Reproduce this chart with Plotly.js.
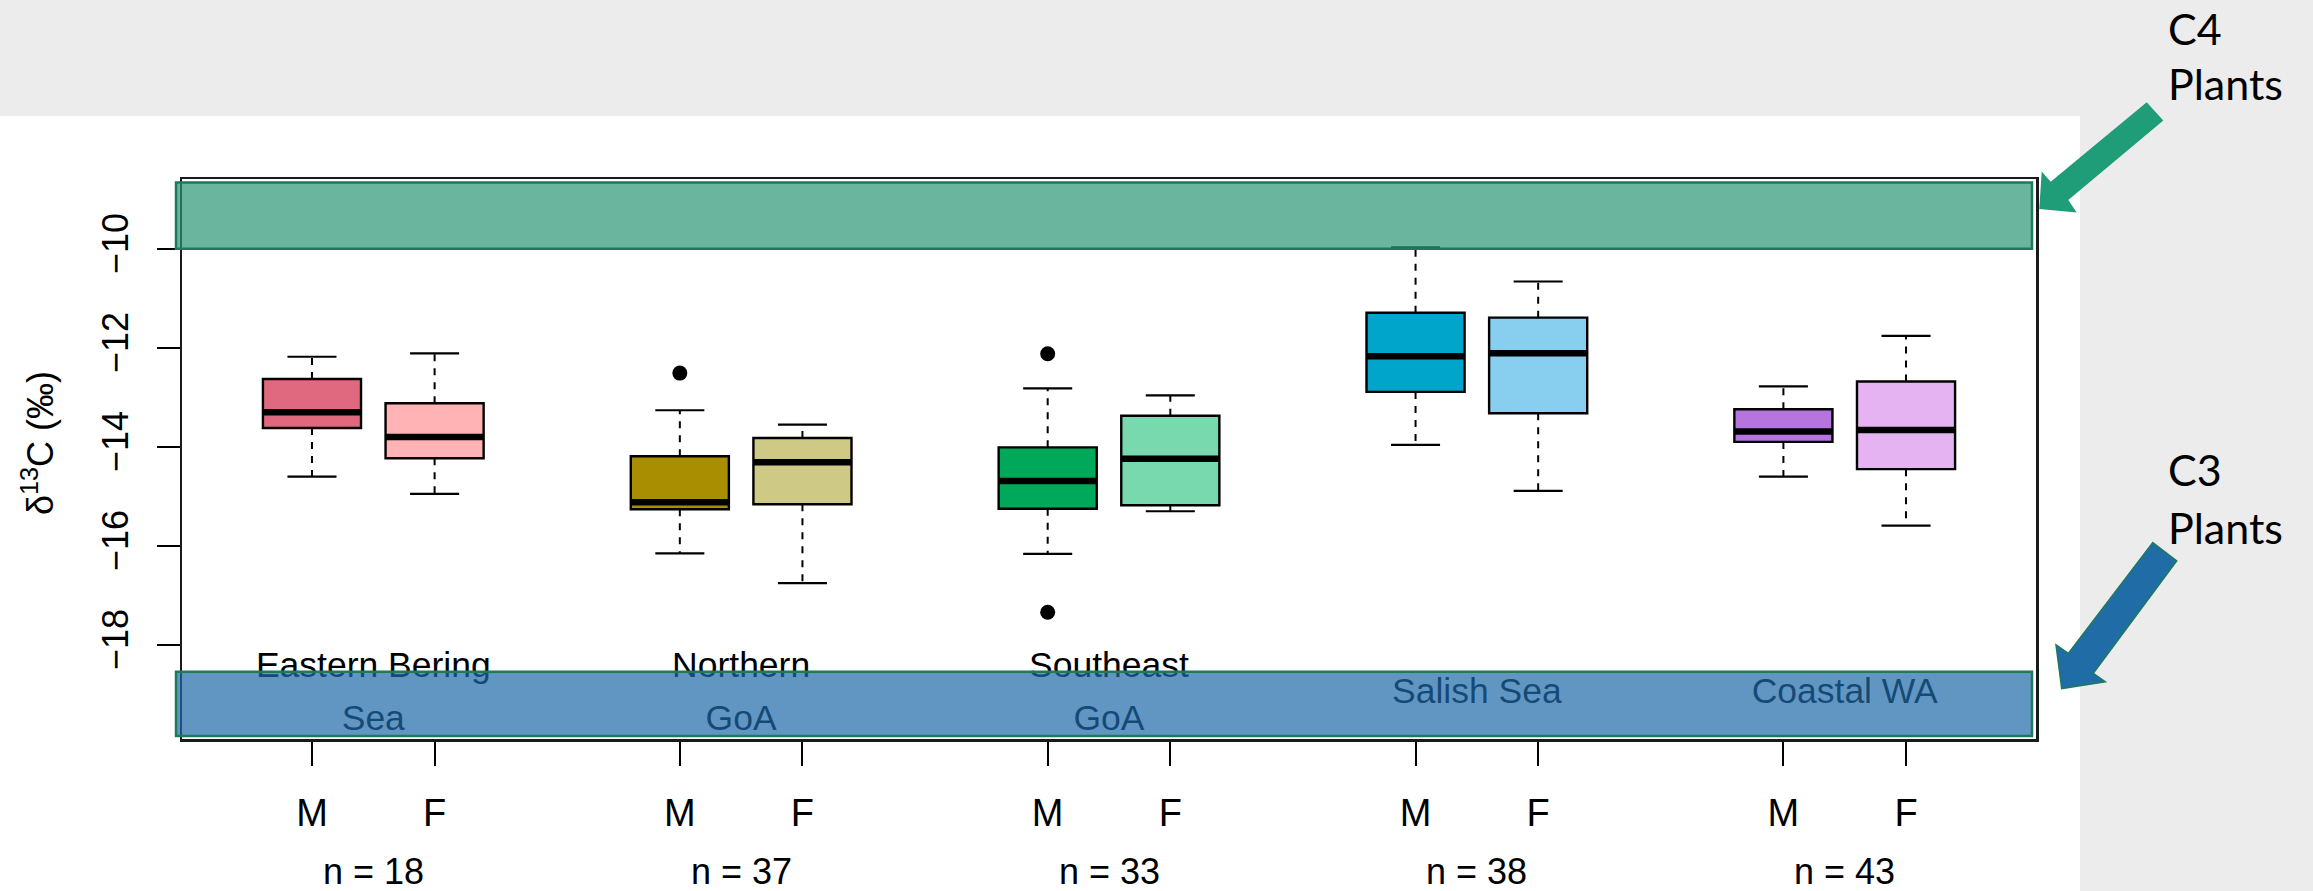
<!DOCTYPE html>
<html>
<head>
<meta charset="utf-8">
<script src="https://cdn.plot.ly/plotly-3.0.1.min.js"></script>
<style>
  html, body { margin: 0; padding: 0; background: #ececec; }
  #chart { width: 2313px; height: 891px; }
</style>
</head>
<body>
<div id="chart"></div>
<script>
// Regions (x groups), sexes within each region, and sample sizes
const regions = ['Eastern Bering\nSea', 'Northern\nGoA', 'Southeast\nGoA', 'Salish Sea', 'Coastal WA'];
const sexes = ['M', 'F'];
const sampleSizes = [18, 37, 33, 38, 43];

// Box statistics (δ13C, ‰), one entry per region/sex box: EBS M, EBS F, NGoA M, NGoA F, ...
const lowerWhisker = [-14.60, -14.95, -16.15, -16.75, -16.16, -15.30, -13.96, -14.89, -14.60, -15.59];
const q1           = [-13.62, -14.23, -15.26, -15.16, -15.25, -15.18, -12.89, -13.32, -13.90, -14.45];
const median       = [-13.30, -13.80, -15.12, -14.31, -14.69, -14.24, -12.17, -12.11, -13.69, -13.66];
const q3           = [-12.63, -13.12, -14.19, -13.82, -14.01, -13.37, -11.29, -11.39, -13.24, -12.68];
const upperWhisker = [-12.18, -12.11, -13.26, -13.55, -12.82, -12.96, -9.97, -10.66, -12.78, -11.76];

// Outliers: index of the box they belong to, and value
const outlierBox   = [2, 4, 4];
const outlierValue = [-12.51, -12.12, -17.34];

// Box fill colours
const boxColors = ['#E0697F', '#FFB3B5', '#A88E00', '#CFC986', '#00A85A',
                   '#78D8AE', '#00A5CB', '#87CEEF', '#B675DE', '#E6B3F2'];

// Reference bands for plant sources
const c4Band = [-10.0, -8.66];
const c3Band = [-19.84, -18.54];

// ---- geometry helpers ----
const FONT = 'Liberation Sans, Arial, Helvetica, sans-serif';
const L = 182, R = 2036, T = 179, B = 739;         // plot area in pixels
const px2x = p => (p - L) / (R - L);                // pixel -> paper x
const px2y = p => (B - p) / (B - T);                // pixel -> paper y
const BOX_W = 0.8, CAP_W = 0.4;

// positions 1,2, 4,5, 7,8, ... (one empty slot between regions)
const pos = [];
regions.forEach((r, g) => sexes.forEach((s, k) => pos.push(g * 3 + k + 1)));
const groupCenter = regions.map((r, g) => g * 3 + 1.5);

const traces = [];

// dashed whiskers
const wx = [], wy = [];
pos.forEach((p, i) => {
  wx.push(p, p, null, p, p, null);
  wy.push(q3[i], upperWhisker[i], null, q1[i], lowerWhisker[i], null);
});
traces.push({type: 'scatter', mode: 'lines', x: wx, y: wy, hoverinfo: 'skip',
  line: {color: '#000', width: 2, dash: '7px,7px'}, showlegend: false});

// whisker caps
const cx = [], cy = [];
pos.forEach((p, i) => {
  cx.push(p - CAP_W / 2, p + CAP_W / 2, null, p - CAP_W / 2, p + CAP_W / 2, null);
  cy.push(upperWhisker[i], upperWhisker[i], null, lowerWhisker[i], lowerWhisker[i], null);
});
traces.push({type: 'scatter', mode: 'lines', x: cx, y: cy, hoverinfo: 'skip',
  line: {color: '#000', width: 2.2}, showlegend: false});

// boxes
pos.forEach((p, i) => {
  traces.push({
    type: 'box', x: [p], q1: [q1[i]], median: [median[i]], q3: [q3[i]],
    lowerfence: [q1[i]], upperfence: [q3[i]],
    width: BOX_W, whiskerwidth: 0, fillcolor: boxColors[i],
    line: {color: '#000', width: 2.4}, showlegend: false, hoverinfo: 'skip'
  });
});

// thick median lines
const mx = [], my = [];
pos.forEach((p, i) => {
  mx.push(p - BOX_W / 2, p + BOX_W / 2, null);
  my.push(median[i], median[i], null);
});
traces.push({type: 'scatter', mode: 'lines', x: mx, y: my, hoverinfo: 'skip',
  line: {color: '#000', width: 6.5}, showlegend: false});

// outliers
traces.push({type: 'scatter', mode: 'markers', x: outlierBox.map(i => pos[i]), y: outlierValue,
  marker: {color: '#000', size: 15}, showlegend: false, hoverinfo: 'skip'});

// region labels inside the plot (drawn under the bands)
const LABEL_Y = -19.0, LINE_GAP = 1.06;
const lx = [], ly = [], lt = [];
regions.forEach((name, g) => {
  const lines = name.split('\n');
  lines.forEach((ln, j) => {
    lx.push(groupCenter[g]);
    ly.push(LABEL_Y + ((lines.length - 1) / 2 - j) * LINE_GAP);
    lt.push(ln);
  });
});
traces.push({type: 'scatter', mode: 'text', x: lx, y: ly, text: lt,
  textposition: 'middle center', textfont: {family: FONT, size: 35.5, color: '#000'},
  showlegend: false, hoverinfo: 'skip', cliponaxis: false});

// ---- shapes ----
const shapes = [];
// white panel behind the chart
shapes.push({type: 'rect', xref: 'paper', yref: 'paper', layer: 'below',
  x0: px2x(0), x1: px2x(2080), y0: px2y(891), y1: px2y(116),
  fillcolor: '#ffffff', line: {width: 0}});
// C4 and C3 bands
shapes.push({type: 'rect', xref: 'paper', yref: 'y', layer: 'above',
  x0: px2x(176), x1: px2x(2032), y0: c4Band[0], y1: c4Band[1],
  fillcolor: 'rgba(42,149,116,0.7)', line: {color: '#1E7A5C', width: 2.5}});
shapes.push({type: 'rect', xref: 'paper', yref: 'y', layer: 'above',
  x0: px2x(176), x1: px2x(2032), y0: c3Band[0], y1: c3Band[1],
  fillcolor: 'rgba(32,105,168,0.7)', line: {color: '#1E7A5C', width: 2.5}});

// block arrows pointing at the bands
function arrowPath(pts) {
  return 'M ' + pts.map(p => px2x(p[0]) + ',' + px2y(p[1])).join(' L ') + ' Z';
}
shapes.push({type: 'path', xref: 'paper', yref: 'paper', layer: 'above',
  path: arrowPath([[2146.7, 102.3], [2050.7, 181.8], [2041.7, 171.6], [2039.3, 209.1],
                   [2076.7, 212.5], [2068.3, 200.0], [2163.3, 120.5]]),
  fillcolor: '#1F9C78', line: {width: 0}});
shapes.push({type: 'path', xref: 'paper', yref: 'paper', layer: 'above',
  path: arrowPath([[2152.7, 542.6], [2068.3, 653.4], [2056.0, 644.9], [2061.7, 688.6],
                   [2105.3, 681.8], [2093.3, 673.3], [2176.7, 560.8]]),
  fillcolor: '#1F6CA6', line: {color: '#1E7A5C', width: 1.5}});

// ---- annotations ----
const annotations = [];
sampleSizes.forEach((n, g) => {
  annotations.push({x: groupCenter[g], xref: 'x', y: px2y(871), yref: 'paper',
    text: 'n = ' + n, showarrow: false, xanchor: 'center', yanchor: 'middle',
    font: {family: FONT, size: 36, color: '#000'}});
});
// y axis title
annotations.push({x: px2x(38), y: px2y(443), xref: 'paper', yref: 'paper',
  text: 'δ<sup>13</sup>C (‰)', textangle: -90, showarrow: false,
  xanchor: 'center', yanchor: 'middle', font: {family: FONT, size: 36, color: '#000'}});
// plant labels
const sideFont = {family: 'Lato, Open Sans, sans-serif', size: 43, color: '#000'};
[['C4', 28], ['Plants', 84], ['C3', 470], ['Plants', 527]].forEach(([t, y]) => {
  annotations.push({x: px2x(2166), y: px2y(y), xref: 'paper', yref: 'paper', text: t,
    showarrow: false, xanchor: 'left', yanchor: 'middle', font: sideFont});
});

const layout = {
  width: 2313, height: 891, autosize: false,
  margin: {l: L, r: 2313 - R, t: T, b: 891 - B, pad: 0},
  paper_bgcolor: '#ececec', plot_bgcolor: 'rgba(0,0,0,0)',
  showlegend: false, boxmode: 'overlay',
  xaxis: {
    range: [-0.06, 15.06], tickmode: 'array', tickvals: pos,
    ticktext: pos.map((p, i) => sexes[i % 2]),
    ticks: 'outside', ticklen: 24, tickwidth: 2, tickcolor: '#000',
    ticklabelstandoff: 15,
    tickfont: {family: FONT, size: 38, color: '#000'},
    showgrid: false, zeroline: false, showline: true, mirror: true,
    linewidth: 2.5, linecolor: '#1a1a1a'
  },
  yaxis: {
    range: [-19.9, -8.59], tickmode: 'array', tickvals: [-10, -12, -14, -16, -18],
    ticktext: ['−10', '−12', '−14', '−16', '−18'], tickangle: -90,
    ticks: 'outside', ticklen: 23, tickwidth: 2, tickcolor: '#000',
    ticklabelstandoff: 14,
    tickfont: {family: FONT, size: 36, color: '#000'},
    showgrid: false, zeroline: false, showline: true, mirror: true,
    linewidth: 2.5, linecolor: '#1a1a1a'
  },
  shapes: shapes,
  annotations: annotations
};

Plotly.newPlot('chart', traces, layout, {displayModeBar: false, staticPlot: true});
</script>
</body>
</html>
